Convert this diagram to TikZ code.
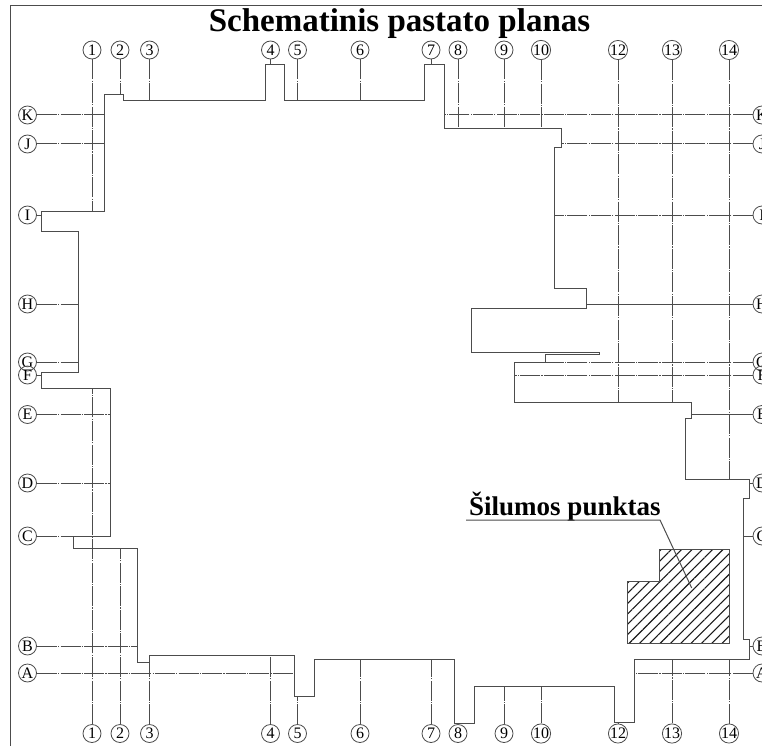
\documentclass[tikz,border=0pt]{standalone}
\usepackage{fontspec}
\setmainfont{Liberation Serif}
\usetikzlibrary{patterns.meta}
\tikzset{
    axislabel/.style={draw=black!70, line width=0.8pt, circle, minimum size=18pt, inner sep=0pt, font=\fontsize{16}{16}\selectfont},
    axisline/.style={draw=black!70, line width=1pt, dash pattern=on 20pt off 1.2pt on 1.2pt off 1.2pt},
    wall/.style={draw=black!70, line width=1pt},
}

\begin{document}
\begin{tikzpicture}[x=1pt, y=-1pt]
    \useasboundingbox (0,0) rectangle (762,746);
    \clip (0,0) rectangle (762,746);

    % Frame
    \draw[wall] (10.5,746) -- (10.5,5.5) -- (762,5.5);
    \node[font=\bfseries\fontsize{33}{33}\selectfont, inner sep=0pt, anchor=base] (title) at (399.5,31.5) {Schematinis pastato planas};

    % Outer wall
    \draw[wall] (41.5,211) -- (104,211) -- (104,95) -- (123.5,95) -- (123.5,101) -- (265,101) -- (265,65)
        -- (284,65) -- (284,101) -- (424.5,101) -- (424.5,65) -- (444,65) -- (444,128.5) -- (561,128.5)
        -- (561,147.5) -- (554.5,147.5) -- (554.5,288) -- (586,288) -- (586,308) -- (471,308) -- (471,352)
        -- (599,352) -- (599,354.5) -- (545.5,354.5) -- (545.5,362) -- (514,362) -- (514,402.5) -- (691.5,402.5)
        -- (691.5,418) -- (685.5,418) -- (685.5,479.5) -- (749.5,479.5) -- (749.5,498) -- (743,498) -- (743,639)
        -- (749.5,639) -- (749.5,659.5) -- (634,659.5) -- (634,722.5) -- (614.5,722.5) -- (614.5,686.5)
        -- (474,686.5) -- (474,723) -- (454.5,723) -- (454.5,659.5) -- (314,659.5) -- (314,696) -- (294,696)
        -- (294,655.5) -- (149.5,655.5) -- (149.5,662) -- (137,662) -- (137,548) -- (73.5,548) -- (73.5,536)
        -- (110,536) -- (110,388) -- (41.5,388) -- (41.5,372) -- (78.5,372) -- (78.5,231) -- (41.5,231) -- cycle;

    % Vertical axes
    \foreach \name/\x/\upto/\from in {1/92/211/388, 2/120/95/548, 3/149.5/101/656, 4/270.5/65/656, 5/297.5/101/696,
        6/360/101/659.5, 7/431/65/659.5, 8/458/128.5/723, 9/504/128.5/686.5, 10/541/128.5/686.5,
        12/618/402.5/722.5, 13/672/402.5/659.5, 14/729/479.5/659.5} {
        \node[axislabel] (top\name) at (\x,50) {\name};
        \node[axislabel] (bot\name) at (\x,733.5) {\name};
        \coordinate (topend\name) at (\x,\upto);
        \coordinate (botend\name) at (\x,\from);
        \draw[axisline] (top\name) -- (topend\name);
        \draw[axisline] (bot\name) -- (botend\name);
    }

    % Horizontal axes
    \foreach \name/\y/\upto/\from/\rightstyle in {K/115/104/444/axisline, J/144/104/561/axisline, I/215/41.5/554.5/axisline,
        H/304/78.5/586/wall, G/362/78.5/514/axisline, F/375/41.5/514/axisline, E/414.5/110/691.5/wall,
        D/483/110/749.5/wall, C/536/73.5/743/wall, B/646/137/749.5/wall, A/673/294/634/axisline} {
        \node[axislabel] (left\name) at (27.5,\y) {\name};
        \node[axislabel] (right\name) at (762,\y) {\name};
        \coordinate (leftend\name) at (\upto,\y);
        \coordinate (rightend\name) at (\from,\y);
        \draw[axisline] (left\name) -- (leftend\name);
        \draw[\rightstyle] (right\name) -- (rightend\name);
    }

    % Heat station
    \draw[wall, pattern={Lines[angle=45, distance=7.3pt, line width=1.1pt]}, pattern color=black!90]
        (659.5,549) -- (729.5,549) -- (729.5,643.5) -- (627.5,643.5) -- (627.5,581.5) -- (659.5,581.5) -- cycle;
    \node[font=\bfseries\fontsize{27}{27}\selectfont, inner sep=0pt, anchor=base west] (station) at (469,515.5) {Šilumos punktas};
    \coordinate (underlinestart) at (466,520);
    \coordinate (underlineend) at (660,520);
    \coordinate (stationend) at (691.7,588);
    \draw[wall] (underlinestart) -- (underlineend) -- (stationend);
\end{tikzpicture}
\end{document}
